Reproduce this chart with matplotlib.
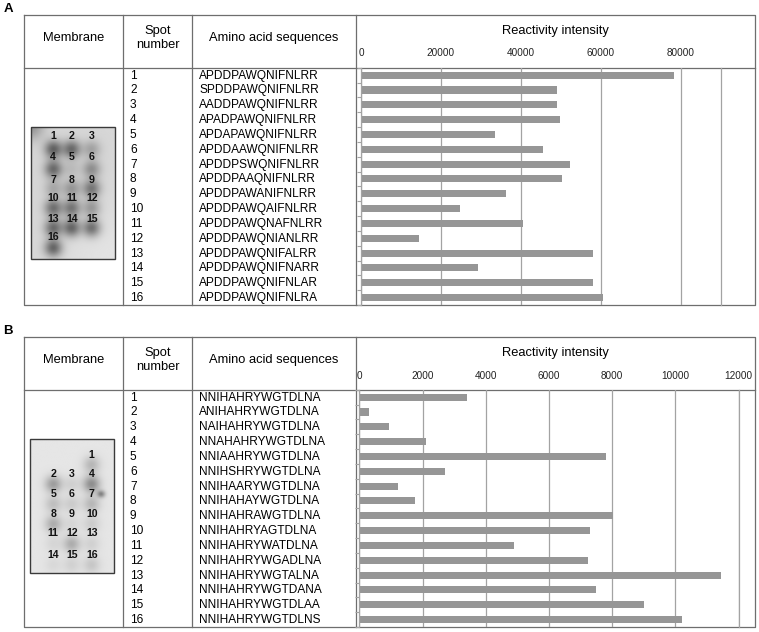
import numpy as np
import matplotlib.pyplot as plt
from matplotlib.patches import Rectangle

plt.rcParams['font.family'] = ['Liberation Sans', 'DejaVu Sans']

W, H = 759, 632

spot_numbers = list(range(1, 17))

# panel A
seq_a = ["APDDPAWQNIFNLRR", "SPDDPAWQNIFNLRR", "AADDPAWQNIFNLRR", "APADPAWQNIFNLRR",
         "APDAPAWQNIFNLRR", "APDDAAWQNIFNLRR", "APDDPSWQNIFNLRR", "APDDPAAQNIFNLRR",
         "APDDPAWANIFNLRR", "APDDPAWQAIFNLRR", "APDDPAWQNAFNLRR", "APDDPAWQNIANLRR",
         "APDDPAWQNIFALRR", "APDDPAWQNIFNARR", "APDDPAWQNIFNLAR", "APDDPAWQNIFNLRA"]
intensity_a = [78400, 49100, 49100, 49900, 33500, 45600, 52200, 50200,
               36200, 24800, 40500, 14500, 58000, 29200, 58000, 60600]
ticks_a = [0, 20000, 40000, 60000, 80000]

# panel B
seq_b = ["NNIHAHRYWGTDLNA", "ANIHAHRYWGTDLNA", "NAIHAHRYWGTDLNA", "NNAHAHRYWGTDLNA",
         "NNIAAHRYWGTDLNA", "NNIHSHRYWGTDLNA", "NNIHAARYWGTDLNA", "NNIHAHAYWGTDLNA",
         "NNIHAHRAWGTDLNA", "NNIHAHRYAGTDLNA", "NNIHAHRYWATDLNA", "NNIHAHRYWGADLNA",
         "NNIHAHRYWGTALNA", "NNIHAHRYWGTDANA", "NNIHAHRYWGTDLAA", "NNIHAHRYWGTDLNS"]
intensity_b = [3420, 320, 950, 2100, 7800, 2720, 1230, 1760,
               8020, 7300, 4890, 7230, 11450, 7490, 9020, 10200]
ticks_b = [0, 2000, 4000, 6000, 8000, 10000, 12000]

# membrane photo look (spot darkness)
dark_a = [0.45, 0.42, 0.2, 0.42, 0.1, 0.28, 0.18, 0.25,
          0.38, 0.4, 0.38, 0.25, 0.42, 0.45, 0.42, 0.45]
dark_b = [0.18, 0.28, 0.08, 0.34, 0.15, 0.1, 0.18, 0.22,
          0.06, 0.1, 0.06, 0.22, 0.08, 0.05, 0.08, 0.12]

LINE = '#6e6e6e'
GRID = '#a3a3a3'
BAR = '#969696'

fig = plt.figure(figsize=(W / 100, H / 100), dpi=100)
ax0 = fig.add_axes([0, 0, 1, 1])
ax0.set_xlim(0, W)
ax0.set_ylim(H, 0)
ax0.axis('off')


def px_axes(x0, y0, x1, y1):
    return fig.add_axes([x0 / W, 1 - y1 / H, (x1 - x0) / W, (y1 - y0) / H])


def membrane(box, bg, spot_xy, dark, label_xy, sigma, extra=()):
    x0, y0, x1, y1 = box
    xs = np.linspace(x0, x1, 250)
    ys = np.linspace(y0, y1, 400)
    X, Y = np.meshgrid(xs, ys)
    img = np.full(X.shape, bg)
    blobs = [(sx, sy, d, sigma) for (sx, sy), d in zip(spot_xy, dark)] + list(extra)
    for sx, sy, d, s in blobs:
        img -= d * np.exp(-((X - sx) ** 2 + (Y - sy) ** 2) / (2 * s ** 2))
    ax0.imshow(img, extent=(x0, x1, y1, y0), cmap='gray', vmin=0, vmax=1,
               aspect='auto', interpolation='bilinear', zorder=2)
    ax0.add_patch(Rectangle((x0, y0), x1 - x0, y1 - y0, fill=False,
                            ec='#3a3a3a', lw=1.0, zorder=3))
    for n, (lx, ly) in zip(spot_numbers, label_xy):
        ax0.text(lx, ly, str(n), fontsize=7.6, fontweight='bold', ha='center',
                 va='center', color='#111111', zorder=4)


def panel(letter, top, head, bottom, seqs, vals, ticks, xmax, px0, px1, tick_pad):
    right = 755
    # table frame
    ax0.plot([24, right, right, 24, 24], [top, top, bottom, bottom, top],
             color=LINE, lw=0.9, zorder=1)
    ax0.plot([24, right], [head, head], color=LINE, lw=0.9, zorder=1)
    for cx in [123, 192, 356]:
        ax0.plot([cx, cx], [top, bottom], color=LINE, lw=0.9, zorder=1)
    ax0.text(8, top - 6, letter, fontsize=9.5, fontweight='bold',
             ha='center', va='center')
    hy = (top + head) / 2 - 4
    ax0.text(73.5, hy + 0.5, 'Membrane', fontsize=9.3, ha='center', va='center')
    ax0.text(157.5, hy - 6.5, 'Spot', fontsize=9.3, ha='center', va='center')
    ax0.text(157.5, hy + 7.5, 'number', fontsize=9.3, ha='center', va='center')
    ax0.text(274, hy + 0.5, 'Amino acid sequences', fontsize=9.3, ha='center', va='center')
    ax0.text(555.5, hy - 6.5, 'Reactivity intensity', fontsize=9.3, ha='center', va='center')

    step = (bottom - head) / 16
    for i, (n, s) in enumerate(zip(spot_numbers, seqs)):
        y = head + (i + 0.5) * step + 0.5
        ax0.text(130, y, str(n), fontsize=8.6, ha='left', va='center')
        ax0.text(199, y, s, fontsize=8.6, ha='left', va='center')

    ax = px_axes(px0, head, px1, bottom)
    ax.set_facecolor('none')
    ax.barh(range(16), vals, height=0.48, color=BAR, zorder=2)
    ax.set_xlim(0, xmax)
    ax.set_ylim(15.5, -0.5)
    ax.set_xticks(ticks)
    ax.set_xticklabels([str(t) for t in ticks])
    ax.xaxis.tick_top()
    ax.tick_params(axis='x', length=0, labelsize=7.2, pad=tick_pad, labelcolor='#222222')
    ax.grid(axis='x', color=GRID, lw=0.9)
    ax.set_axisbelow(True)
    ax.set_yticks([])
    ax.set_yticks(np.arange(-0.5, 16, 1), minor=True)
    ax.tick_params(axis='y', which='minor', length=3, color=GRID, width=0.8)
    for sp in ['top', 'bottom']:
        ax.spines[sp].set_visible(False)
    for sp in ['left', 'right']:
        ax.spines[sp].set_color(GRID)
        ax.spines[sp].set_linewidth(0.9)
    return ax


panel('A', 15, 67.7, 305, seq_a, intensity_a, ticks_a, 90000, 361, 720.5, 7)
panel('B', 336.5, 389.7, 627, seq_b, intensity_b, ticks_b, 12000, 359.3, 738.7, 6)

# membrane A: 3 columns, spots below numbers
cols = [53.3, 71.7, 91.7]
lab_rows_a = [136, 157, 180, 198, 219, 237]
spot_rows_a = [149, 169, 188.5, 208, 228, 248]
lab_a, xy_a = [], []
for k in range(16):
    r, c = divmod(k, 3)
    lab_a.append((cols[c], lab_rows_a[r]))
    xy_a.append((cols[c], spot_rows_a[r]))
membrane((31, 127, 115, 259), 0.84, xy_a, dark_a, lab_a, 6.3,
         extra=[(31, 127, 0.25, 9), (115, 259, -0.05, 40)])

# membrane B: spot 1 alone at top right, then rows of three
lab_rows_b = [454.7, 473.7, 493.7, 513.7, 533, 554.7]
spot_rows_b = [464.5, 484, 504, 524, 544, 565]
lab_b, xy_b = [(cols[2], lab_rows_b[0])], [(cols[2], spot_rows_b[0])]
for k in range(15):
    r, c = divmod(k, 3)
    lab_b.append((cols[c], lab_rows_b[r + 1]))
    xy_b.append((cols[c], spot_rows_b[r + 1]))
membrane((30, 439, 114, 573), 0.9, xy_b, dark_b, lab_b, 6.0,
         extra=[(100.5, 494, 0.25, 2.5), (103, 494, 0.15, 2.5)])

fig.savefig('out.png', dpi=100)
